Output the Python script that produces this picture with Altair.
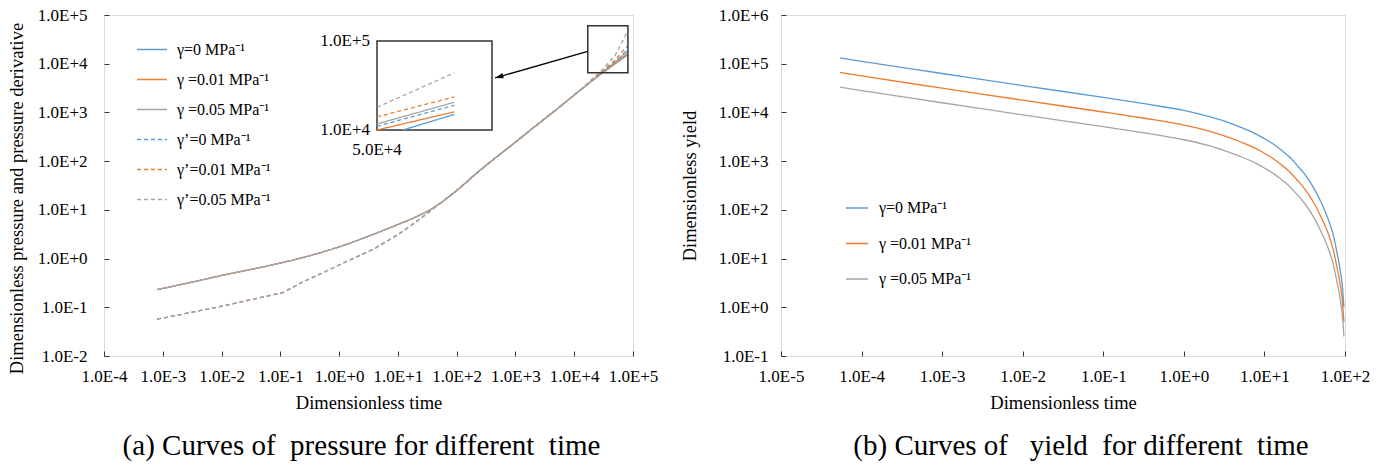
import altair as alt
import pandas as pd

FONT = "Liberation Serif"
BLUE, ORANGE, GRAY = "#5B9BD5", "#ED7D31", "#A5A5A5"

# ---------------- (a) pressure / derivative ----------------
SERIES_A = ["γ=0 MPa⁻¹", "γ =0.01 MPa⁻¹", "γ =0.05 MPa⁻¹",
            "γ’=0 MPa⁻¹", "γ’=0.01 MPa⁻¹", "γ’=0.05 MPa⁻¹"]
COLORS_A = [BLUE, ORANGE, GRAY, BLUE, ORANGE, GRAY]
DASHES_A = [[1, 0], [1, 0], [1, 0], [4, 3], [4, 3], [4, 3]]

P_TIME = [8e-4, 3.2e-3, 1e-2, 3.2e-2, 0.1, 0.32, 1, 3.2, 10, 20, 40, 100, 250,
          1000, 1740, 5000, 12500, 30000, 50000, 80000]
P_G0 = [0.23, 0.33, 0.45, 0.60, 0.81, 1.15, 1.74, 2.9, 5.0, 7.1, 11, 25, 65,
        245, 420, 1150, 2820, 6400, 10000, 15000]
P_G001 = [0.23, 0.33, 0.45, 0.60, 0.81, 1.15, 1.74, 2.9, 5.0, 7.1, 11, 25, 65,
          245, 420, 1150, 2820, 6500, 10300, 16000]
P_G005 = [0.23, 0.33, 0.45, 0.60, 0.81, 1.15, 1.74, 2.9, 5.0, 7.1, 11, 25, 65,
          245, 420, 1150, 2820, 6700, 11000, 18000]

D_TIME = [8e-4, 8.3e-3, 0.11, 0.24, 0.6, 1.5, 4, 10, 20, 40, 100, 250, 1000,
          1740, 5000, 12500, 30000, 50000, 80000]
D_G0 = [0.057, 0.10, 0.20, 0.33, 0.55, 0.93, 1.6, 3.1, 5.6, 10.5, 25, 65, 247,
        424, 1160, 2860, 6800, 11000, 19000]
D_G001 = [0.057, 0.10, 0.20, 0.33, 0.55, 0.93, 1.6, 3.1, 5.6, 10.5, 25, 65, 247,
          424, 1160, 2860, 7000, 12000, 23000]
D_G005 = [0.057, 0.10, 0.20, 0.33, 0.55, 0.93, 1.6, 3.1, 5.6, 10.5, 25, 65, 247,
          424, 1160, 2860, 7500, 15000, 45000]

XTICKS_A = [1e-4, 1e-3, 1e-2, 1e-1, 1e0, 1e1, 1e2, 1e3, 1e4, 1e5]
YTICKS_A = [1e-2, 1e-1, 1e0, 1e1, 1e2, 1e3, 1e4, 1e5]

# zoom box, arrow and inset
ZOOM_T = [1.7e4, 8.2e4]
ZOOM_V = [6.5e3, 6.0e4]
ARROW_T = [1.7e4, 450]
ARROW_V = [1.8e4, 5.1e3]
INSET_T_DOMAIN = [5e4, 1.4e5]
INSET_V_DOMAIN = [1e4, 1e5]
INSET_T0 = [6.3e4, 5e4, 5e4, 5e4, 5e4, 5e4]
INSET_T1 = [1e5, 1e5, 1e5, 1e5, 1e5, 1e5]
INSET_V0 = [1.0e4, 1.0e4, 1.17e4, 1.1e4, 1.4e4, 1.8e4]
INSET_V1 = [1.5e4, 1.6e4, 2.05e4, 1.9e4, 2.35e4, 4.4e4]
INSET_YLABELS = ["1.0E+5", "1.0E+4"]
INSET_XLABEL = "5.0E+4"

# ---------------- (b) yield ----------------
SERIES_B = ["γ=0 MPa⁻¹", "γ =0.01 MPa⁻¹", "γ =0.05 MPa⁻¹"]
COLORS_B = [BLUE, ORANGE, GRAY]
Y_TIME = [5.4e-5, 1e-4, 1e-3, 1e-2, 0.1, 0.32, 1, 2, 3.2, 5, 8, 10, 12.6, 15.8,
          20, 25, 31.6, 40, 50, 63, 71, 79, 87, 93, 97]
Y_G0 = [1.32e5, 1.12e5, 6.3e4, 3.55e4, 2.04e4, 1.51e4, 1.1e4, 8.3e3, 6.6e3, 5.0e3,
        3.55e3, 2.9e3, 2.3e3, 1.74e3, 1.26e3, 850, 540, 300, 148, 59, 32, 14, 6.0,
        2.6, 1.0]
Y_G001 = [6.6e4, 5.6e4, 3.15e4, 1.78e4, 1.02e4, 7.6e3, 5.5e3, 4.2e3, 3.3e3, 2.5e3,
          1.78e3, 1.45e3, 1.15e3, 870, 630, 425, 270, 150, 74, 30, 16, 7.0, 3.0,
          1.3, 0.5]
Y_G005 = [3.3e4, 2.8e4, 1.58e4, 8.9e3, 5.1e3, 3.8e3, 2.75e3, 2.1e3, 1.65e3, 1.25e3,
          890, 725, 575, 435, 315, 213, 135, 75, 37, 15, 8, 3.5, 1.5, 0.65, 0.25]
XTICKS_B = [1e-5, 1e-4, 1e-3, 1e-2, 1e-1, 1e0, 1e1, 1e2]
YTICKS_B = [1e-1, 1e0, 1e1, 1e2, 1e3, 1e4, 1e5, 1e6]

# ---------------- data frames ----------------
rows = []
for name, vals in zip(SERIES_A[:3], [P_G0, P_G001, P_G005]):
    for t, v in zip(P_TIME, vals):
        rows.append({"t": t, "v": v, "series": name})
df_p = pd.DataFrame(rows)
rows = []
for name, vals in zip(SERIES_A[3:], [D_G0, D_G001, D_G005]):
    for t, v in zip(D_TIME, vals):
        rows.append({"t": t, "v": v, "series": name})
df_d = pd.DataFrame(rows)

inset_rows = []
for i, name in enumerate(SERIES_A):
    inset_rows.append({"t": INSET_T0[i], "v": INSET_V0[i], "series": name})
    inset_rows.append({"t": INSET_T1[i], "v": INSET_V1[i], "series": name})
df_inset = pd.DataFrame(inset_rows)

rows_b = []
for name, vals in zip(SERIES_B, [Y_G0, Y_G001, Y_G005]):
    for t, v in zip(Y_TIME, vals):
        rows_b.append({"t": t, "v": v, "series": name})
df_b = pd.DataFrame(rows_b)

LABEL_EXPR = "upper(format(datum.value, '.1e'))"


def axis(values, title, label_padding, title_padding, **kw):
    return alt.Axis(values=values, labelExpr=LABEL_EXPR, title=title,
                    domain=False, ticks=True, tickSize=5, tickWidth=1,
                    tickColor="#333333", offset=-5, labelPadding=label_padding,
                    grid=False, labelFont=FONT, labelFontSize=17,
                    labelColor="black", labelFlush=False, labelOverlap=False,
                    titleFont=FONT, titleFontSize=18.5, titleFontWeight="normal",
                    titleColor="black", titlePadding=title_padding, **kw)


def legend(x, y, size, row_pad, offset):
    return alt.Legend(title=None, orient="none", legendX=x, legendY=y,
                      symbolType="stroke", symbolSize=size, symbolStrokeWidth=1.5,
                      labelFont=FONT, labelFontSize=16, labelColor="black",
                      labelOffset=offset, rowPadding=row_pad, padding=0,
                      labelLimit=300)


xs_a = alt.Scale(type="log", domain=[1e-4, 1e5])
ys_a = alt.Scale(type="log", domain=[1e-2, 1e5])
XAX_A = axis(XTICKS_A, "Dimensionless time", 12, 9)
YAX_A = axis(YTICKS_A, "Dimensionless pressure and pressure derivative", 17, 11, titleY=183)
X_A = alt.X("t:Q", scale=xs_a, axis=XAX_A)
Y_A = alt.Y("v:Q", scale=ys_a, axis=YAX_A)

color_a = alt.Color("series:N", scale=alt.Scale(domain=SERIES_A, range=COLORS_A),
                    legend=legend(32, 18.5, 900, 6.0, 9))
dash_a = alt.StrokeDash("series:N", scale=alt.Scale(domain=SERIES_A, range=DASHES_A),
                        legend=legend(32, 18.5, 900, 6.0, 9))

lines_p = alt.Chart(df_p).mark_line(strokeWidth=1.3, interpolate="monotone").encode(
    x=X_A, y=Y_A, color=color_a, strokeDash=dash_a, detail="series:N")
lines_d = alt.Chart(df_d).mark_line(strokeWidth=1.3).encode(
    x=X_A, y=Y_A, color=color_a, strokeDash=dash_a, detail="series:N")

box_df = pd.DataFrame({"t": [ZOOM_T[0]], "t2": [ZOOM_T[1]], "v": [ZOOM_V[0]], "v2": [ZOOM_V[1]]})
zoom_box = alt.Chart(box_df).mark_rect(fill="transparent", stroke="#333333", strokeWidth=1.5).encode(
    x=X_A, x2="t2:Q", y=Y_A, y2="v2:Q")

arrow_df = pd.DataFrame({"t": ARROW_T, "v": ARROW_V, "k": [0, 1]})
arrow_line = alt.Chart(arrow_df).mark_line(color="black", strokeWidth=1.3).encode(
    x=X_A, y=Y_A, order="k:Q")
arrow_head = alt.Chart(arrow_df.iloc[[1]]).mark_point(
    shape="M0,-1L0.65,1L-0.65,1Z", angle=254, filled=True, color="black", size=70,
    opacity=1, xOffset=4, yOffset=-1.2).encode(x=X_A, y=Y_A)

main_a = alt.layer(lines_p, lines_d, zoom_box, arrow_line, arrow_head)

xs_in = alt.Scale(type="log", domain=INSET_T_DOMAIN, range=[273, 388])
ys_in = alt.Scale(type="log", domain=INSET_V_DOMAIN, range=[115, 26])
X_IN = alt.X("t:Q", scale=xs_in, axis=None)
Y_IN = alt.Y("v:Q", scale=ys_in, axis=None)
inbox_df = pd.DataFrame({"t": [INSET_T_DOMAIN[0]], "t2": [INSET_T_DOMAIN[1]],
                         "v": [INSET_V_DOMAIN[0]], "v2": [INSET_V_DOMAIN[1]]})
inset_box = alt.Chart(inbox_df).mark_rect(fill="white", stroke="#333333", strokeWidth=1.5).encode(
    x=X_IN, x2="t2:Q", y=Y_IN, y2="v2:Q")
inset_lines = alt.Chart(df_inset).mark_line(strokeWidth=1.3).encode(
    x=X_IN, y=Y_IN,
    color=alt.Color("series:N", scale=alt.Scale(domain=SERIES_A, range=COLORS_A), legend=None),
    strokeDash=alt.StrokeDash("series:N", scale=alt.Scale(domain=SERIES_A, range=DASHES_A), legend=None),
    detail="series:N")
ylab_df = pd.DataFrame({"t": [INSET_T_DOMAIN[0]] * 2, "v": INSET_V_DOMAIN[::-1], "lab": INSET_YLABELS})
inset_ylabels = alt.Chart(ylab_df).mark_text(align="right", baseline="middle", dx=-7,
                                             font=FONT, fontSize=17, color="black").encode(
    x=X_IN, y=Y_IN, text="lab:N")
xlab_df = pd.DataFrame({"t": [INSET_T_DOMAIN[0]], "v": [INSET_V_DOMAIN[0]], "lab": [INSET_XLABEL]})
inset_xlabel = alt.Chart(xlab_df).mark_text(align="center", baseline="middle", dy=20,
                                            font=FONT, fontSize=17, color="black").encode(
    x=X_IN, y=Y_IN, text="lab:N")
inset = alt.layer(inset_box, inset_lines, inset_ylabels, inset_xlabel)

chart_a = alt.layer(main_a, inset).resolve_scale(x="independent", y="independent").properties(
    width=529, height=341,
    title=alt.TitleParams("(a) Curves of\u00a0 pressure for different\u00a0 time", orient="bottom",
                          anchor="middle", frame="group", font=FONT, fontSize=29,
                          fontWeight="normal", color="black", offset=20, dx=-7))

# ---------------- (b) chart ----------------
xs_b = alt.Scale(type="log", domain=[1e-5, 1e2])
ys_b = alt.Scale(type="log", domain=[1e-1, 1e6])
chart_b = alt.Chart(df_b).mark_line(strokeWidth=1.3, interpolate="monotone").encode(
    x=alt.X("t:Q", scale=xs_b, axis=axis(XTICKS_B, "Dimensionless time", 12, 9)),
    y=alt.Y("v:Q", scale=ys_b, axis=axis(YTICKS_B, "Dimensionless yield", 13, 19)),
    color=alt.Color("series:N", scale=alt.Scale(domain=SERIES_B, range=COLORS_B),
                    legend=legend(64, 181, 484, 15.5, 10)),
    detail="series:N").properties(
    width=564, height=341,
    title=alt.TitleParams("(b) Curves of\u00a0\u00a0 yield\u00a0 for different\u00a0 time", orient="bottom",
                          anchor="middle", frame="group", font=FONT, fontSize=29,
                          fontWeight="normal", color="black", offset=20, dx=18))

chart = alt.hconcat(chart_a, chart_b, spacing=20).resolve_scale(
    color="independent", strokeDash="independent").resolve_legend(
    color="independent", strokeDash="independent").configure_view(
    stroke="#404040", strokeWidth=1.3).configure(font=FONT).properties(
    padding={"left": 6, "top": 5, "right": 5, "bottom": 5}, background="white")

chart.save("out.html", embed_options={"renderer": "svg", "actions": False})
